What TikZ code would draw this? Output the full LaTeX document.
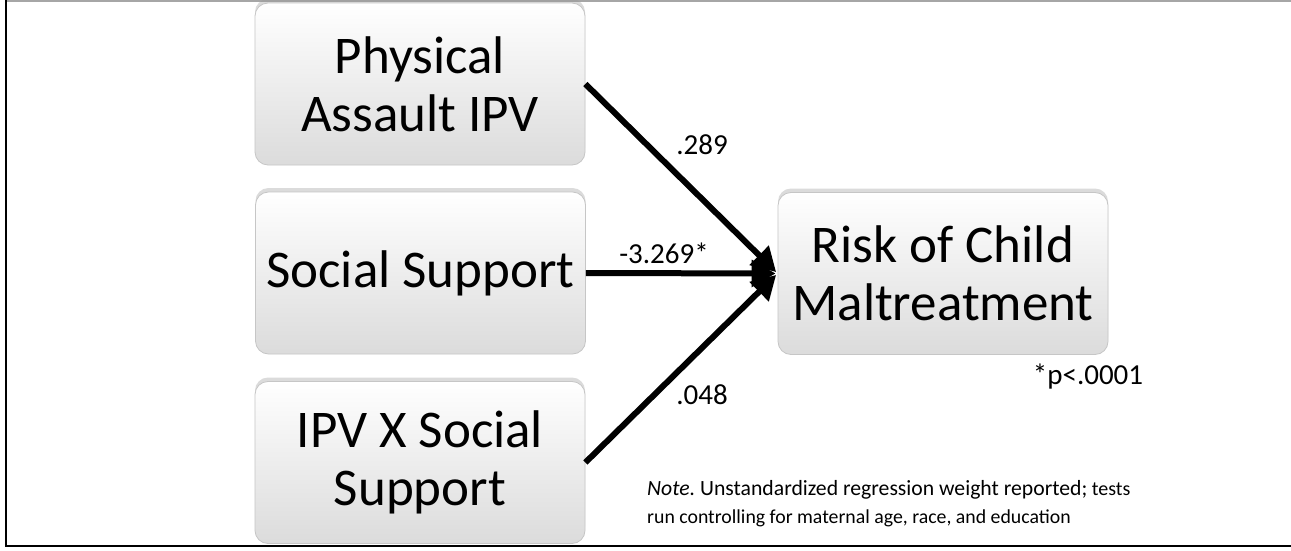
\documentclass[tikz,border=0pt]{standalone}
\usepackage{fontspec}
\setmainfont{Carlito}
\usetikzlibrary{arrows.meta,shadows,positioning}
\frenchspacing
\tikzset{
  box/.style={rectangle, rounded corners=13pt, draw=gray!45, line width=0.8pt,
    top color=white, bottom color=gray!28, minimum width=330pt, minimum height=162pt,
    align=center, font=\fontsize{53}{58}\selectfont, inner sep=0pt,
    drop shadow={shadow xshift=0pt, shadow yshift=4pt, opacity=0.35, fill=gray!80}},
  path/.style={line width=6pt, -{Triangle[length=24pt,width=26pt]}, shorten >=2pt},
  lbl/.style={font=\fontsize{29}{32}\selectfont, inner sep=0pt},
}
\begin{document}
\begin{tikzpicture}[x=1pt,y=-1pt]
\useasboundingbox (0,0) rectangle (1291,551);
\fill[white] (0,0) rectangle (1291,551);
\draw[gray!70, line width=1.5pt] (6,1) -- (1291,1);
\draw[black, line width=2.5pt] (6,0) -- (6,546) -- (1291,546);
\node[box] (pa) at (420,84) {Physical\\Assault IPV};
\node[box] (ss) at (420.5,273) {Social Support};
\node[box] (ix) at (420,462.5) {IPV X Social\\Support};
\node[box] (rk) at (943,273.5) {Risk of Child\\Maltreatment};
\draw[path] (pa.east) -- (rk.west);
\draw[path] (ss.east) -- (rk.west);
\draw[path] (ix.east) -- (rk.west);
\node[lbl] (l1) at (702,145) {.289};
\node[lbl] (l2) at (664,253) {-3.269*};
\node[lbl] (l3) at (702,395) {.048};
\node[lbl] (pv) at (1088,377) {*p<.0001};
\node[anchor=base west, inner sep=0pt, font=\fontsize{21.7}{26}\selectfont] (n1) at (647,495)
  {\textit{Note.} Unstandardized regression weight reported;\fontsize{20}{24}\selectfont{} tests};
\node[anchor=base west, inner sep=0pt, font=\fontsize{19.8}{24}\selectfont] (n2) at (647,523)
  {run controlling for maternal age, race, and education};
\end{tikzpicture}
\end{document}
